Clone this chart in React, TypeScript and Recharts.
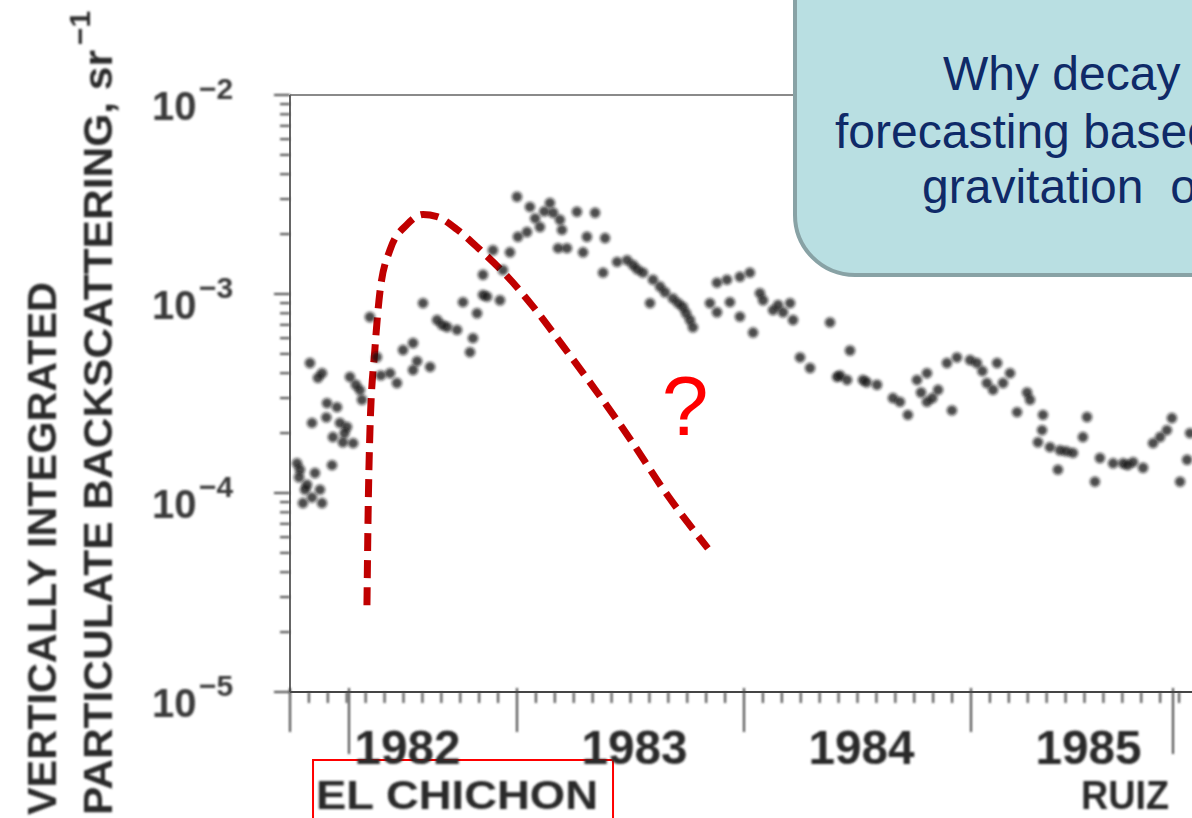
import React from 'react';
import { ComposedChart, Scatter, Line, XAxis, YAxis, ReferenceLine } from 'recharts';

// Lidar record of vertically integrated particulate backscattering (sr^-1), by fractional year
const obs1982: [number, number][] = [
  [1982.031, 1.41e-4], [1982.044, 1.31e-4], [1982.057, 8.9e-5], [1982.066, 1.04e-4],
  [1982.097, 9.5e-5], [1982.110, 1.26e-4], [1982.132, 1.04e-4], [1982.141, 8.9e-5],
  [1982.185, 1.38e-4], [1982.088, 4.5e-4], [1982.141, 4.0e-4], [1982.097, 2.25e-4],
  [1982.163, 2.83e-4], [1982.207, 2.7e-4], [1982.220, 2.25e-4], [1982.251, 2.15e-4],
  [1982.189, 1.91e-4], [1982.233, 1.8e-4], [1982.278, 1.78e-4], [1982.264, 3.83e-4],
  [1982.308, 3.29e-4], [1982.317, 2.94e-4], [1982.123, 3.79e-4], [1982.352, 7.66e-4],
  [1982.383, 4.82e-4], [1982.441, 4.0e-4], [1982.471, 3.57e-4], [1982.498, 5.23e-4],
  [1982.542, 5.67e-4], [1982.542, 4.15e-4], [1982.617, 4.3e-4], [1982.586, 9.0e-4],
  [1982.648, 7.4e-4], [1982.692, 6.83e-4], [1982.736, 6.6e-4], [1982.762, 9.1e-4],
  [1982.824, 8.0e-4], [1982.806, 6.0e-4], [1982.793, 5.1e-4], [1982.850, 1.25e-3],
  [1982.850, 9.9e-4], [1982.868, 9.7e-4], [1982.925, 9.3e-4], [1982.894, 1.66e-3],
  [1982.938, 1.32e-3], [1982.969, 1.62e-3], [1982.040, 1.20e-4], [1982.075, 1.10e-4],
  [1982.160, 2.40e-4], [1982.240, 2.00e-4], [1982.290, 3.50e-4], [1982.400, 3.90e-4],
  [1982.560, 4.60e-4], [1982.670, 7.00e-4],
];

const obs1983: [number, number][] = [
  [1983.000, 3.08e-3], [1983.057, 2.74e-3], [1983.145, 2.87e-3], [1983.159, 2.56e-3],
  [1983.101, 2.17e-3], [1983.044, 2.05e-3], [1983.004, 1.94e-3], [1983.189, 2.36e-3],
  [1983.198, 2.10e-3], [1983.264, 2.59e-3], [1983.344, 2.56e-3], [1983.181, 1.70e-3],
  [1983.220, 1.70e-3], [1983.291, 1.62e-3], [1983.308, 1.94e-3], [1983.388, 1.91e-3],
  [1983.379, 1.28e-3], [1983.441, 1.45e-3], [1983.485, 1.48e-3], [1983.511, 1.40e-3],
  [1983.555, 1.28e-3], [1983.599, 1.18e-3], [1983.586, 9.0e-4], [1983.630, 1.09e-3],
  [1983.652, 1.02e-3], [1983.687, 9.5e-4], [1983.731, 8.6e-4], [1983.762, 7.4e-4],
  [1983.775, 6.8e-4], [1983.850, 9.0e-4], [1983.881, 1.14e-3], [1983.925, 1.18e-3],
  [1983.982, 1.22e-3], [1983.938, 9.1e-4], [1983.982, 7.7e-4], [1983.881, 8.1e-4],
  [1983.080, 2.40e-3], [1983.120, 2.60e-3], [1983.530, 1.33e-3], [1983.710, 9.0e-4],
  [1983.745, 8.0e-4],
];

const obs1984: [number, number][] = [
  [1984.026, 1.28e-3], [1984.040, 6.4e-4], [1984.070, 1.01e-3], [1984.084, 9.3e-4],
  [1984.128, 8.3e-4], [1984.172, 8.1e-4], [1984.203, 9.0e-4], [1984.216, 7.4e-4],
  [1984.379, 7.2e-4], [1984.247, 4.8e-4], [1984.291, 4.25e-4], [1984.410, 3.83e-4],
  [1984.467, 5.2e-4], [1984.423, 3.9e-4], [1984.454, 3.7e-4], [1984.524, 3.7e-4],
  [1984.586, 3.5e-4], [1984.656, 3.0e-4], [1984.687, 2.87e-4], [1984.722, 2.47e-4],
  [1984.762, 3.7e-4], [1984.806, 4.0e-4], [1984.806, 2.87e-4], [1984.855, 3.3e-4],
  [1984.916, 2.6e-4], [1984.894, 4.5e-4], [1984.938, 4.8e-4], [1984.996, 4.66e-4],
  [1984.150, 8.8e-4], [1984.540, 3.6e-4], [1984.780, 3.2e-4], [1984.830, 3.0e-4],
];

const obs1985: [number, number][] = [
  [1985.026, 4.5e-4], [1985.070, 3.57e-4], [1985.115, 4.5e-4], [1985.097, 3.3e-4],
  [1985.172, 4.0e-4], [1985.141, 3.57e-4], [1985.247, 3.2e-4], [1985.260, 2.94e-4],
  [1985.203, 2.55e-4], [1985.317, 2.47e-4], [1985.313, 2.07e-4], [1985.295, 1.8e-4],
  [1985.348, 1.7e-4], [1985.392, 1.64e-4], [1985.449, 1.59e-4], [1985.493, 1.91e-4],
  [1985.511, 2.41e-4], [1985.383, 1.31e-4], [1985.546, 1.14e-4], [1985.568, 1.50e-4],
  [1985.626, 1.41e-4], [1985.670, 1.41e-4], [1985.714, 1.43e-4], [1985.758, 1.34e-4],
  [1985.802, 1.78e-4], [1985.833, 1.91e-4], [1985.863, 2.07e-4], [1985.885, 2.38e-4],
  [1985.921, 1.14e-4], [1985.952, 1.47e-4], [1985.965, 2.0e-4], [1985.050, 4.1e-4],
  [1985.420, 1.62e-4], [1985.690, 1.38e-4],
];

// Sketched rise-and-decay curve after the eruption
const curveYear = [
  1982.339, 1982.344, 1982.352, 1982.374, 1982.396, 1982.441, 1982.515, 1982.586, 1982.648,
  1982.736, 1982.837, 1982.956, 1983.070, 1983.203, 1983.352, 1983.498, 1983.643, 1983.841,
];
const curveValue = [
  2.73e-5, 7.71e-5, 2.03e-4, 5.28e-4, 1.02e-3, 1.67e-3, 2.23e-3, 2.51e-3, 2.45e-3,
  2.11e-3, 1.67e-3, 1.23e-3, 8.67e-4, 5.47e-4, 3.22e-4, 1.87e-4, 1.05e-4, 5.27e-5,
];

const decades = [1e-5, 1e-4, 1e-3, 1e-2];
const decadeExponents = [-5, -4, -3, -2];
const years = [1982, 1983, 1984, 1985];
const eruptionNames = ['EL CHICHON', 'RUIZ'];
const eruptionDates = [1982.26, 1985.89];
const axisTitleLines = ['VERTICALLY INTEGRATED', 'PARTICULATE BACKSCATTERING, sr'];
const axisTitleUnitPower = '\u22121';
const calloutLines = ['Why decay', 'forecasting based', 'gravitation\u00a0\u00a0of'];
const questionMark = '?';

const observations = [...obs1982, ...obs1983, ...obs1984, ...obs1985].map(([year, v]) => ({ year, v }));
const curve = curveYear.map((year, i) => ({ year, v: curveValue[i] }));

const yTicks = [
  ...decades.slice(0, 3).flatMap((d) => [1, 2, 3, 4, 5, 6, 7, 8, 9].map((m) => (m === 1 ? d : d * m))),
  decades[3],
];
const xTicks = [
  ...years.flatMap((y) => Array.from({ length: 12 }, (_, k) => y + k / 12)),
  years[years.length - 1] + 1,
  ...eruptionDates,
].sort((a, b) => a - b);

const W = 1200;
const H = 818;
const PLOT_LEFT = 290;
const PLOT_TOP = 95;
const PLOT_BOTTOM = 692;
const INK = '#2a2a2a';
const AXIS = '#454545';
const SCAN = 'url(#scan)';
const SCAN_FONT = '"Liberation Sans", Arial, sans-serif';

const YTick = (props: any) => {
  const { y, payload } = props;
  const v = payload.value;
  const i = decades.indexOf(v);
  const major = i >= 0;
  return (
    <g filter={SCAN}>
      <line x1={PLOT_LEFT - (major ? 16 : 10)} x2={PLOT_LEFT} y1={y} y2={y} stroke={AXIS} strokeWidth={2} />
      {major && (
        <text fontFamily={SCAN_FONT} fill="#3a3a3a" fontWeight="bold">
          <tspan x={152} y={y + 25} fontSize={40}>10</tspan>
          <tspan x={199} y={y + 4} fontSize={30}>{'\u2212' + Math.abs(decadeExponents[i])}</tspan>
        </text>
      )}
    </g>
  );
};

const XTick = (props: any) => {
  const { x, payload } = props;
  const v = payload.value;
  const e = eruptionDates.indexOf(v);
  const frac = v - Math.floor(v);
  const isYear = frac < 1e-6 || frac > 1 - 1e-6;
  const isMid = Math.abs(frac - 0.5) < 1e-6;
  const year = Math.floor(v);
  const len = e >= 0 ? 62 : isYear ? 40 : 11;
  return (
    <g>
      <g filter={SCAN}>
        <line x1={x} x2={x} y1={PLOT_BOTTOM - (isYear || e >= 0 ? 4 : 0)} y2={PLOT_BOTTOM + len} stroke={AXIS} strokeWidth={2} />
        {isMid && years.includes(year) && (
          <text x={x + 4} y={764} textAnchor="middle" fontFamily={SCAN_FONT} fontSize={48} fontWeight="bold" fill={INK}
            textLength={106} lengthAdjust="spacingAndGlyphs">{year}</text>
        )}
        {e === 0 && (
          <text x={x - 33} y={809} textAnchor="start" fontFamily={SCAN_FONT} fontSize={40} fontWeight="bold" fill={INK}
            textLength={282} lengthAdjust="spacingAndGlyphs">{eruptionNames[e]}</text>
        )}
        {e === 1 && (
          <text x={x - 4} y={809} textAnchor="end" fontFamily={SCAN_FONT} fontSize={40} fontWeight="bold" fill={INK}
            textLength={88} lengthAdjust="spacingAndGlyphs">{eruptionNames[e]}</text>
        )}
      </g>
      {e === 0 && <rect x={x - 36} y={760} width={300} height={90} fill="none" stroke="#ff0000" strokeWidth={2} />}
    </g>
  );
};

const Dot = (props: any) => {
  const { cx, cy } = props;
  if (cx == null || cy == null) return null;
  return <circle cx={cx} cy={cy} r={5.2} fill="#151515" fillOpacity={0.75} filter="url(#dotBlur)" />;
};

export default function App() {
  return (
    <div style={{ position: 'absolute', left: 0, top: 0, width: 1192, height: 818, overflow: 'hidden', background: '#fff' }}>
      <ComposedChart width={W} height={H} margin={{ top: PLOT_TOP, right: 2, bottom: 0, left: 0 }}>
        <XAxis
          type="number"
          dataKey="year"
          domain={[1982, 1986]}
          ticks={xTicks}
          interval={0}
          height={H - PLOT_BOTTOM}
          allowDataOverflow
          tickLine={false}
          axisLine={{ stroke: AXIS, strokeWidth: 2 }}
          tick={<XTick />}
        />
        <YAxis
          type="number"
          dataKey="v"
          scale="log"
          domain={[1e-5, 1e-2]}
          ticks={yTicks}
          interval={0}
          width={PLOT_LEFT}
          allowDataOverflow
          tickLine={false}
          axisLine={{ stroke: '#666', strokeWidth: 2 }}
          tick={<YTick />}
        />
        <ReferenceLine y={1e-2} stroke="#8a8a8a" strokeWidth={2} />
        <Scatter data={observations} dataKey="v" shape={<Dot />} isAnimationActive={false} />
        <Line
          data={curve}
          dataKey="v"
          type="monotone"
          stroke="#c00000"
          strokeWidth={7}
          strokeDasharray="18 9"
          dot={false}
          activeDot={false}
          isAnimationActive={false}
        />
      </ComposedChart>

      <svg width={1192} height={818} style={{ position: 'absolute', left: 0, top: 0, pointerEvents: 'none' }}>
        <defs>
          <filter id="scan" filterUnits="userSpaceOnUse" x={-20} y={-20} width={1260} height={900}>
            <feGaussianBlur stdDeviation={0.9} />
          </filter>
          <filter id="dotBlur" filterUnits="userSpaceOnUse" x={-20} y={-20} width={1260} height={900}>
            <feGaussianBlur stdDeviation={1.4} />
          </filter>
        </defs>

        <g filter={SCAN} fill={INK} fontFamily={SCAN_FONT} fontWeight="bold">
          <text transform="translate(56,815) rotate(-90)" fontSize={40} textLength={533} lengthAdjust="spacingAndGlyphs">
            {axisTitleLines[0]}
          </text>
          <text transform="translate(112,815) rotate(-90)" fontSize={40} textLength={765} lengthAdjust="spacingAndGlyphs">
            {axisTitleLines[1]}
          </text>
          <text transform="translate(90,45) rotate(-90)" fontSize={30}>{axisTitleUnitPower}</text>
        </g>

        <text x={685} y={435} textAnchor="middle" fontFamily="Arial, 'Liberation Sans', sans-serif" fontSize={84} fill="#ff0000">
          {questionMark}
        </text>

        <rect x={795} y={-80} width={480} height={355} rx={60} ry={60} fill="#b9dfe2" stroke="#88a2a5" strokeWidth={4} />
        <g fontFamily="Arial, 'Liberation Sans', sans-serif" fontSize={48} fill="#0f2a68">
          <text x={943} y={90}>{calloutLines[0]}</text>
          <text x={835} y={148}>{calloutLines[1]}</text>
          <text x={922} y={203}>{calloutLines[2]}</text>
        </g>
      </svg>
    </div>
  );
}
